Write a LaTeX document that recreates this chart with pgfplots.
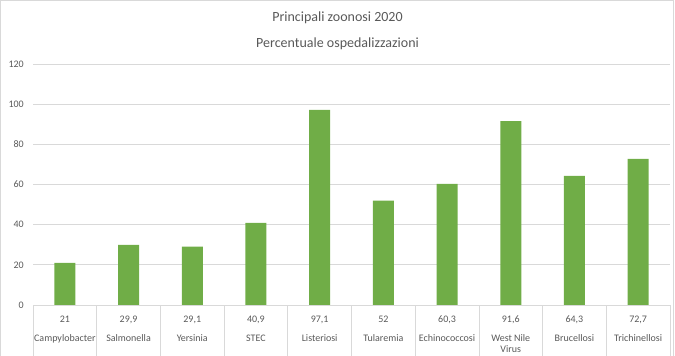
\documentclass[border=0pt]{standalone}
\usepackage{pgfplots}
\pgfplotsset{compat=1.18}
\usepackage{fontspec}
\setmainfont{Carlito}
\definecolor{txt}{HTML}{595959}
\definecolor{grd}{HTML}{D9D9D9}
\definecolor{bar}{HTML}{70AD47}
\begin{document}
\begin{tikzpicture}[x=1pt,y=1pt]
\useasboundingbox (0,0) rectangle (675,356);
\draw[grd,line width=1pt] (0.5,0) -- (0.5,355.5) -- (673,355.5) -- (673,0);
\node[text=txt,font=\fontsize{14}{16}\selectfont] at (337.5,338) {Principali zoonosi 2020};
\node[text=txt,font=\fontsize{14}{16}\selectfont] at (337.5,312) {Percentuale ospedalizzazioni};
\begin{axis}[
  at={(33pt,51pt)}, anchor=south west,
  scale only axis, width=637pt, height=241pt,
  xmin=-0.5, xmax=9.5, ymin=0, ymax=120,
  ytick={0,20,...,120},
  xtick={0,...,9},
  xticklabels={{21\\[8pt]Campylobacter},{29,9\\[8pt]Salmonella},{29,1\\[8pt]Yersinia},{40,9\\[8pt]STEC},{97,1\\[8pt]Listeriosi},{52\\[8pt]Tularemia},{60,3\\[8pt]Echinococcosi},{91,6\\[8pt]West Nile\\Virus},{64,3\\[8pt]Brucellosi},{72,7\\[8pt]Trichinellosi}},
  axis x line*=bottom, axis y line*=left,
  y axis line style={draw=none},
  x axis line style={draw=grd, line width=0.8pt, -},
  ymajorgrids, grid style={grd, line width=0.8pt},
  major tick length=0pt,
  xtick style={draw=none}, ytick style={draw=none},
  /pgf/number format/assume math mode=true,
  yticklabel style={text=txt, font=\fontsize{10}{12}\selectfont, inner sep=0pt, xshift=-9pt},
  xticklabel style={text=txt, font=\fontsize{10}{11}\selectfont, align=center, anchor=north, yshift=-7pt},
  extra x ticks={-0.5,0.5,...,9.5},
  extra x tick labels={},
  extra x tick style={grid=none, tick align=outside, major tick length=51pt, xtick style={draw=grd, line width=0.8pt}},
  ybar, bar width=21pt,
]
\addplot[fill=bar, draw=none] coordinates {(0,21) (1,29.9) (2,29.1) (3,40.9) (4,97.1) (5,52) (6,60.3) (7,91.6) (8,64.3) (9,72.7)};
\end{axis}
\end{tikzpicture}
\end{document}
